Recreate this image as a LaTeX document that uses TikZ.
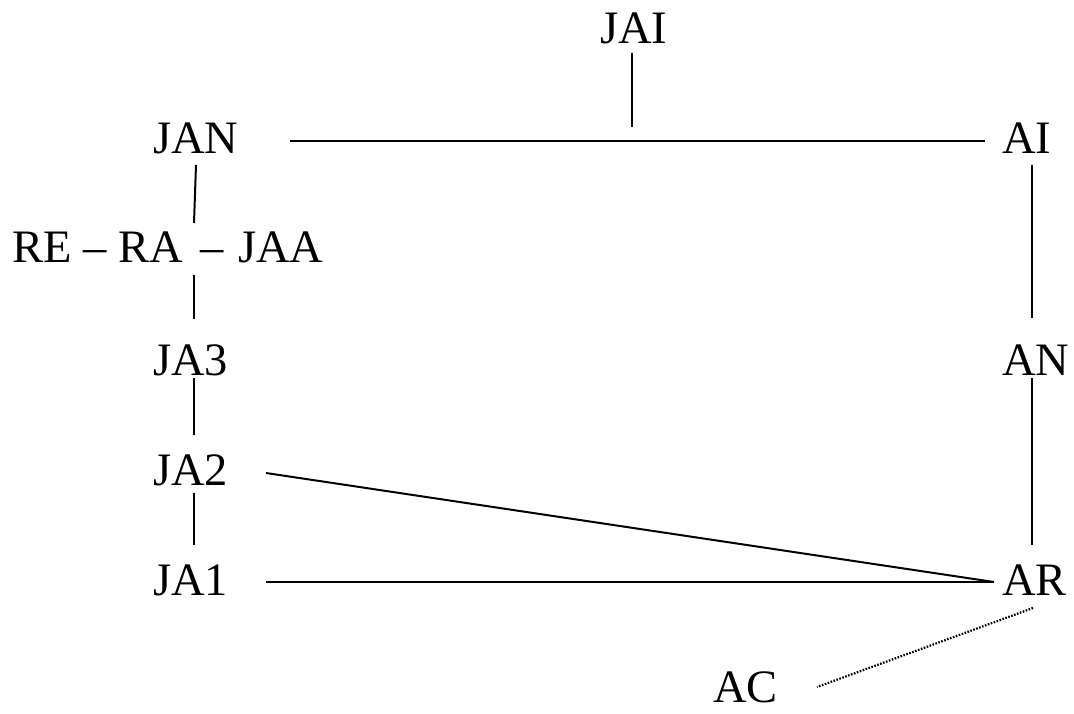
\documentclass[tikz,border=0pt]{standalone}
\usepackage{fontspec}
\setmainfont{Liberation Serif}
\begin{document}
\begin{tikzpicture}[x=1pt,y=-1pt,
  lbl/.style={anchor=base west,inner sep=0pt,font=\fontsize{46.5}{56}\selectfont},
  conn/.style={line width=2pt},
  dotconn/.style={line width=2.2pt,dash pattern=on 1.6pt off 1.5pt}]
\useasboundingbox (0,0) rectangle (1074,713);
\node[lbl] (JAI) at (600,43) {JAI};
\node[lbl] (JAN) at (153,153) {JAN};
\node[lbl] (AI) at (1002,153) {AI};
\node[lbl] (REA) at (12,262) {RE – RA\hspace{6pt} –\hspace{3pt} JAA};
\node[lbl] (JA3) at (153,375) {JA3};
\node[lbl] (AN) at (1002,375) {AN};
\node[lbl] (JA2) at (153,485) {JA2};
\node[lbl] (JA1) at (153,595) {JA1};
\node[lbl] (AR) at (1002,595) {AR};
\node[lbl] (AC) at (713,702) {AC};
\coordinate (hub) at (632,127);
% connectors
\draw[conn] ([xshift=32pt,yshift=-10pt]JAI.base west) -- (hub);
\draw[conn] ([xshift=137pt,yshift=12pt]JAN.base west) -- ([xshift=-17pt,yshift=12pt]AI.base west);
\draw[conn] ([xshift=43pt,yshift=-12pt]JAN.base west) -- ([xshift=182pt,yshift=39pt]REA.base west);
\draw[conn] ([xshift=182pt,yshift=-13pt]REA.base west) -- ([xshift=41pt,yshift=56pt]JA3.base west);
\draw[conn] ([xshift=41pt,yshift=-3pt]JA3.base west) -- ([xshift=41pt,yshift=50pt]JA2.base west);
\draw[conn] ([xshift=41pt,yshift=-8pt]JA2.base west) -- ([xshift=41pt,yshift=50pt]JA1.base west);
\draw[conn] ([xshift=113pt,yshift=12pt]JA2.base west) -- ([xshift=-8pt,yshift=13pt]AR.base west);
\draw[conn] ([xshift=113pt,yshift=13pt]JA1.base west) -- ([xshift=-8pt,yshift=13pt]AR.base west);
\draw[conn] ([xshift=30pt,yshift=-12pt]AI.base west) -- ([xshift=30pt,yshift=57pt]AN.base west);
\draw[conn] ([xshift=30pt,yshift=-3pt]AN.base west) -- ([xshift=30pt,yshift=50pt]AR.base west);
\draw[dotconn] ([xshift=31pt,yshift=-13pt]AR.base west) -- ([xshift=104pt,yshift=15pt]AC.base west);
\end{tikzpicture}
\end{document}
